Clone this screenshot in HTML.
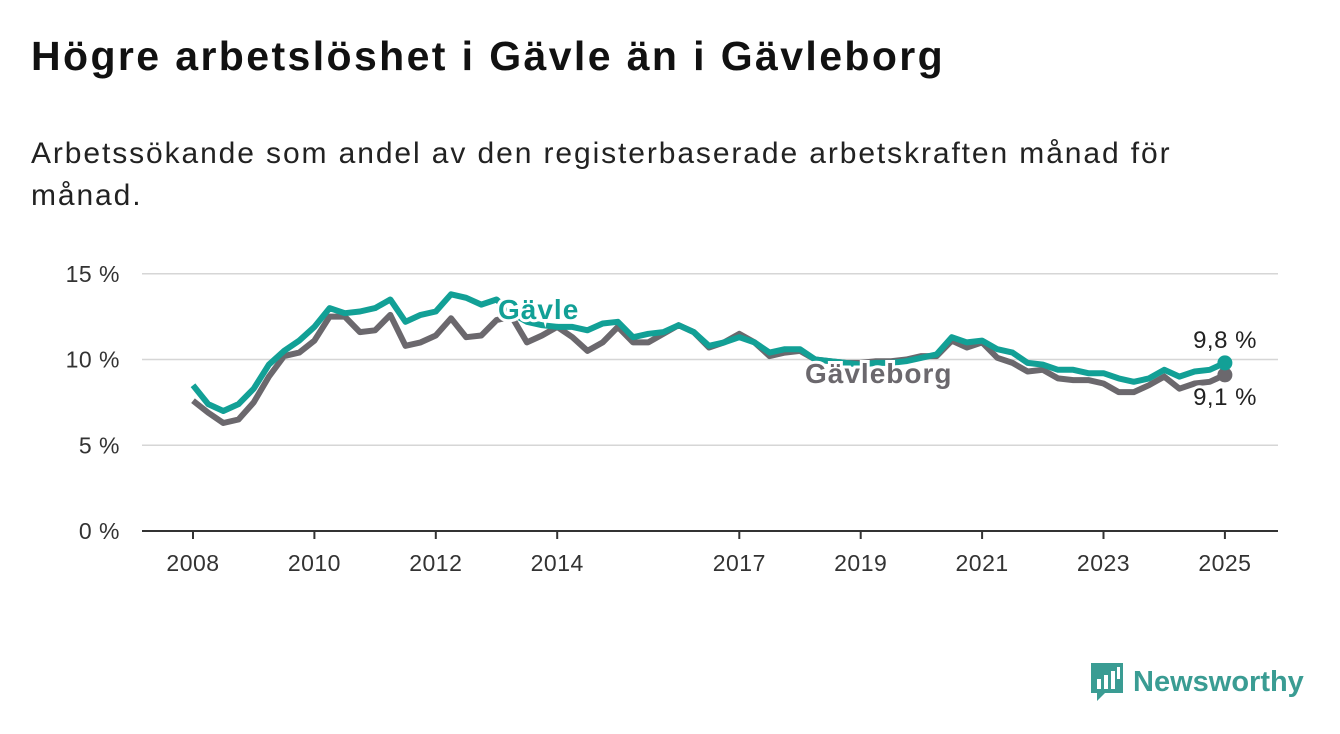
<!DOCTYPE html>
<html><head><meta charset="utf-8">
<style>
body{margin:0;width:1340px;height:734px;background:#fff;font-family:"Liberation Sans",sans-serif;overflow:hidden;position:relative}
h1{position:absolute;left:31px;top:33px;margin:0;font-size:41px;letter-spacing:2.4px;font-weight:bold;color:#111;white-space:nowrap}
p.sub{position:absolute;left:31px;top:133px;margin:0;font-size:30px;letter-spacing:1.9px;line-height:42px;color:#222;width:1185px}
svg{position:absolute;left:0;top:0}
.logo{position:absolute;left:1089px;top:661px;display:flex;align-items:center}
.logo span{font-size:29px;font-weight:bold;color:#3a9c93;margin-left:8px}
</style></head><body>
<h1>Högre arbetslöshet i Gävle än i Gävleborg</h1>
<p class="sub">Arbetssökande som andel av den registerbaserade arbetskraften månad för månad.</p>
<svg id="chart" width="1340" height="734"></svg>
<div class="logo">
<svg width="36" height="42" viewBox="0 0 36 42" style="position:static"><path d="M2 2h32v30H16l-8 8v-8H2z" fill="#3a9c93"/><rect x="8" y="18" width="4" height="10" fill="#fff"/><rect x="15" y="14" width="4" height="14" fill="#fff"/><rect x="22" y="10" width="4" height="18" fill="#fff"/><rect x="28" y="6" width="3" height="12" fill="#fff"/></svg>
<span>Newsworthy</span></div>
<script>
const startYear = 2008;
const stepYears = 0.25;
const gavle = [8.5,7.4,7.0,7.4, 8.3,9.7,10.5,11.1, 11.9,13.0,12.7,12.8, 13.0,13.5,12.2,12.6, 12.8,13.8,13.6,13.2, 13.5,12.7,12.2,12.0, 11.9,11.9,11.7,12.1, 12.2,11.3,11.5,11.6, 12.0,11.6,10.8,11.0, 11.3,11.0,10.4,10.6, 10.6,10.0,9.9,9.8, 9.7,9.8,9.8,9.9, 10.1,10.3,11.3,11.0, 11.1,10.6,10.4,9.8, 9.7,9.4,9.4,9.2, 9.2,8.9,8.7,8.9, 9.4,9.0,9.3,9.4, 9.8];
const gavleborg = [7.6,6.9,6.3,6.5, 7.5,9.0,10.2,10.4, 11.1,12.5,12.5,11.6, 11.7,12.6,10.8,11.0, 11.4,12.4,11.3,11.4, 12.3,12.5,11.0,11.4, 11.9,11.3,10.5,11.0, 11.9,11.0,11.0,11.5, 12.0,11.6,10.7,11.0, 11.5,11.0,10.2,10.4, 10.5,10.0,9.9,9.8, 9.8,9.9,9.9,10.0, 10.2,10.2,11.1,10.7, 11.0,10.1,9.8,9.3, 9.4,8.9,8.8,8.8, 8.6,8.1,8.1,8.5, 9.0,8.3,8.6,8.7, 9.1];
const yTicks = [0,5,10,15];
const yTickLabels = ["0 %","5 %","10 %","15 %"];
const xTicks = [2008,2010,2012,2014,2017,2019,2021,2023,2025];
const endLabels = ["9,8 %","9,1 %"];

const NS="http://www.w3.org/2000/svg";
const svg=document.getElementById('chart');
const X=y=>193+(y-2008)*60.7;
const Y=v=>531-v*17.15;
function el(t,a){const e=document.createElementNS(NS,t);for(const k in a)e.setAttribute(k,a[k]);svg.appendChild(e);return e;}
yTicks.forEach((t,i)=>{
  const g=el('line',{x1:142,x2:1278,y1:Y(t),y2:Y(t),stroke:t===0?'#333':'#d6d6d6','stroke-width':t===0?2:1.5});
  
  
  const tx=el('text',{x:120,y:Y(t)+8,'text-anchor':'end','font-size':23,'letter-spacing':0.5,fill:'#333'});
  tx.textContent=yTickLabels[i];
  
  
});
xTicks.forEach(t=>{
  const l=el('line',{x1:X(t),x2:X(t),y1:531,y2:539,stroke:'#333','stroke-width':2});
  
  
  const tx=el('text',{x:X(t),y:571,'text-anchor':'middle','font-size':23,'letter-spacing':0.5,fill:'#333'});
  tx.textContent=t;
  
  
});
function series(arr,color,name){
  const d=arr.map((v,i)=>(i?'L':'M')+X(startYear+i*stepYears).toFixed(1)+' '+Y(v).toFixed(1)).join(' ');
  const p=el('path',{d:d,fill:'none',stroke:color,'stroke-width':6,'stroke-linejoin':'round'});
  
  
  const n=arr.length-1;
  const c=el('circle',{cx:X(startYear+n*stepYears),cy:Y(arr[n]),r:7.5,fill:color});
  
  
}
series(gavleborg,'#6b686d','gavleborg-line');
series(gavle,'#12a096','gavle-line');
function label(txt,x,y,color,size,weight,name,anchor,ls){
  const t=el('text',{x:x,y:y,fill:color,'font-size':size,'font-weight':weight,'letter-spacing':ls||0,stroke:'#fff','stroke-width':6,'paint-order':'stroke','text-anchor':anchor||'start'});
  t.textContent=txt;
  
  
}
label('Gävle',498,319,'#12a096',28,'bold','gavle-series-label','start',1);
label('Gävleborg',805,383,'#6b686d',28,'bold','gavleborg-series-label','start',1);
label(endLabels[0],1225,348,'#222',24,'normal','gavle-end-value','middle',0.5);
label(endLabels[1],1225,405,'#222',24,'normal','gavleborg-end-value','middle',0.5);
</script>
</body></html>
